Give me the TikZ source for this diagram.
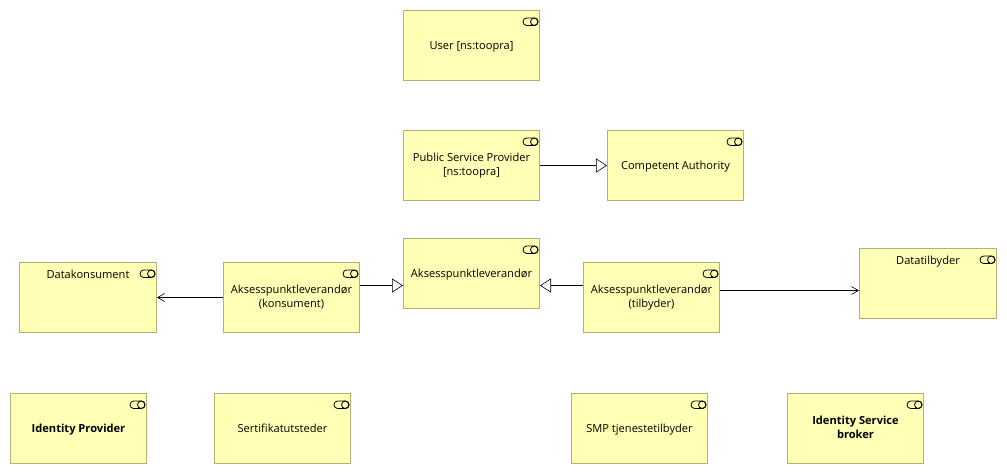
\documentclass[tikz,border=0pt]{standalone}
\usepackage{fontspec}
\setmainfont{Open Sans}
\usetikzlibrary{arrows.meta}
\definecolor{boxfill}{HTML}{FFFFB5}
\definecolor{boxline}{HTML}{B2B277}
\newcommand{\lblfont}{\fontsize{11.1}{14}\selectfont}
\tikzset{
  x=1pt,y=-1pt,
  txt/.style={inner sep=0pt,align=center,font=\lblfont,text=black,
    execute at begin node={\rule{0pt}{11pt}},execute at end node={\rule[-3pt]{0pt}{3pt}}},
  abox/.style={txt,draw=boxline,fill=boxfill,line width=1pt,minimum width=136pt,minimum height=70pt},
  widebox/.style={abox,minimum width=137pt},
  alabel/.style={txt},
  boldtext/.style={font=\lblfont\bfseries},
  iconline/.style={draw=black,line width=0.8pt,fill=none},
  conn/.style={draw=black,line width=0.9pt},
  gen/.style={conn,-{Triangle[open,length=11pt,width=14pt,line width=0.6pt]}},
  serve/.style={conn,-{Straight Barb[length=7pt,width=8pt,line width=0.6pt]}},
}
% icon relative to a box's north east corner
\newcommand{\ficon}[1]{%
  \draw[iconline,rounded corners=3.7pt] ([xshift=-17pt,yshift=-8pt]#1.north east) rectangle ([xshift=-2pt,yshift=-15.5pt]#1.north east);
  \draw[iconline] ([xshift=-5.75pt,yshift=-11.75pt]#1.north east) circle[radius=3.75pt];
}
\begin{document}
\begin{tikzpicture}
\useasboundingbox (0,0) rectangle (1007,474);
\begin{scope}[shift={(0.5,0.5)}]
\node[abox] (user) at (471,45) {User [ns:toopra]};
\node[abox] (psp) at (471,165) {Public Service Provider\\{}[ns:toopra]};
\node[abox] (ca) at (675,165) {Competent Authority};
\node[abox] (aks) at (471,273) {Aksesspunktleverandør};
\node[abox] (akk) at (291,297) {Aksesspunktleverandør\\(konsument)};
\node[widebox] (dk) at (87.5,297) {};
\node[alabel] (dkt) at (87.5,274) {Datakonsument};
\node[abox] (akt) at (651,297) {Aksesspunktleverandør\\(tilbyder)};
\node[widebox] (dt) at (927.5,283) {};
\node[alabel] (dtt) at (927.5,260) {Datatilbyder};
\node[abox,boldtext] (idp) at (78,428) {Identity Provider};
\node[abox] (sert) at (282,428) {Sertifikatutsteder};
\node[abox] (smp) at (639,428) {SMP tjenestetilbyder};
\node[abox,boldtext] (isb) at (855,428) {Identity Service\\broker};
\foreach \n in {user,psp,ca,aks,akk,dk,akt,dt,idp,sert,smp,isb} {\ficon{\n}}
\coordinate (ya) at (0,285);
\coordinate (yb) at (0,290);
\draw[gen] (psp.east) -- (ca.west);
\draw[gen] (akk.east |- ya) -- (aks.west |- ya);
\draw[gen] (akt.west |- ya) -- (aks.east |- ya);
\draw[serve] (akk.west) -- (dk.east);
\draw[serve] (akt.east |- yb) -- (dt.west |- yb);
\end{scope}
\end{tikzpicture}
\end{document}
